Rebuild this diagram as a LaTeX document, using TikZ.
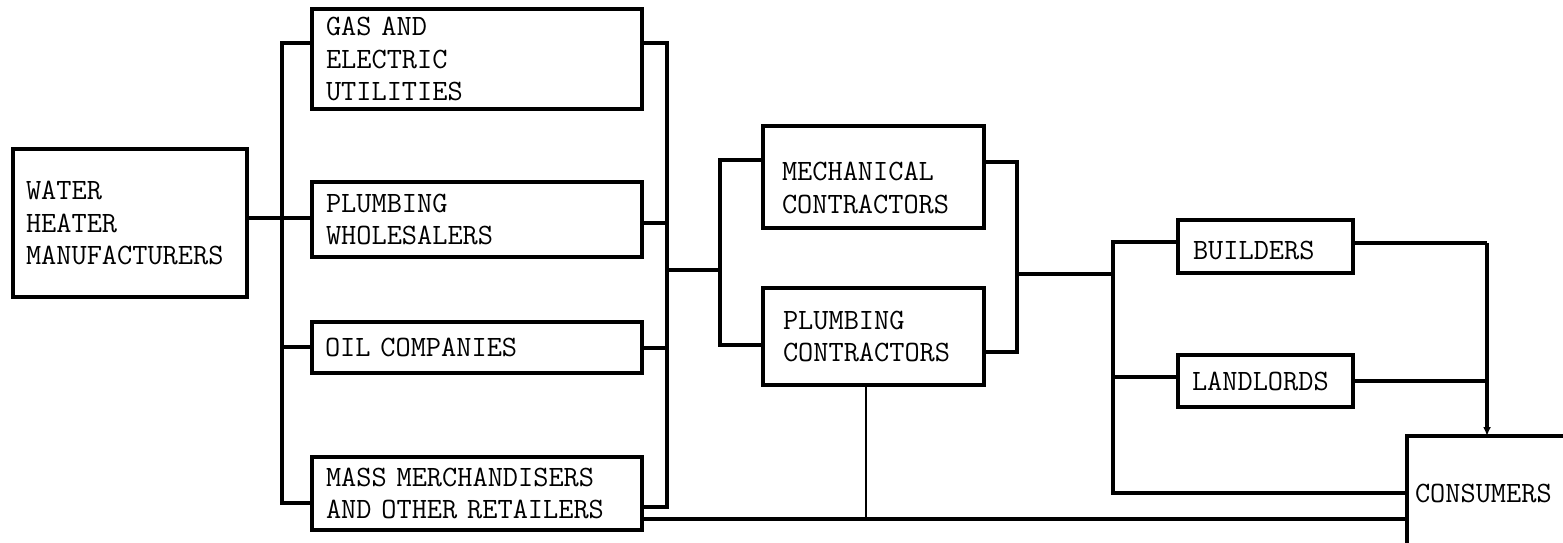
\documentclass[tikz,border=0pt]{standalone}
\usetikzlibrary{arrows.meta}
\newcommand\typew{\fontsize{29.5pt}{32.5pt}\selectfont\ttfamily}
\begin{document}
\begin{tikzpicture}[x=1pt,y=-1pt,
  box/.style={draw, line width=3.6pt, rectangle, anchor=north west, outer sep=0pt,
    inner ysep=0pt, align=left, font=\typew},
  conn/.style={line width=3.2pt},
  thinconn/.style={line width=2.2pt}]
\useasboundingbox (0,0) rectangle (1563,542);

% boxes
\node[box, minimum height=148pt, inner xsep=13pt, text width=208pt] (water) at (13,149) {WATER\\HEATER\\MANUFACTURERS};
\node[box, minimum height=100pt, inner xsep=14pt, text width=302pt] (gas) at (312,9) {GAS AND\\ELECTRIC\\UTILITIES};
\node[box, minimum height=75pt, inner xsep=14pt, text width=302pt] (pw) at (312,182) {PLUMBING\\WHOLESALERS};
\node[box, minimum height=51pt, inner xsep=13pt, text width=304pt] (oil) at (312,322) {OIL COMPANIES};
\node[box, minimum height=73pt, inner xsep=14pt, text width=302pt] (mass) at (312,457) {MASS MERCHANDISERS\\AND OTHER RETAILERS};
\node[box, minimum height=102pt, inner xsep=19pt, text width=183pt] (mech) at (763,126) {\rule{0pt}{40pt}MECHANICAL\\CONTRACTORS};
\node[box, minimum height=97pt, inner xsep=20pt, text width=181pt] (pc) at (763,288) {PLUMBING\\CONTRACTORS};
\node[box, minimum height=53pt, inner xsep=15pt, text width=145pt] (bld) at (1178,220) {\rule{0pt}{27pt}BUILDERS};
\node[box, minimum height=52pt, inner xsep=14pt, text width=147pt] (lnd) at (1178,355) {LANDLORDS};
\node[box, minimum height=114pt, inner xsep=8pt, text width=157pt] (cons) at (1407,436) {CONSUMERS};

% left bus
\coordinate (lbT) at (282,43);
\coordinate (lbW) at (282,218);
\coordinate (lbO) at (282,347);
\coordinate (lbB) at (282,503);
\draw[conn] (gas.west |- lbT) -- (lbT) -- (lbB) -- (mass.west |- lbB);
\draw[conn] (water.east |- lbW) -- (pw.west |- lbW);
\draw[conn] (lbO) -- (oil.west |- lbO);

% right bus of second column
\coordinate (rbT) at (667,43);
\coordinate (rbP) at (667,223);
\coordinate (rbM) at (667,270);
\coordinate (rbO) at (667,348);
\coordinate (rbB) at (667,507);
\draw[conn] (gas.east |- rbT) -- (rbT) -- (rbB) -- (mass.east |- rbB);
\draw[conn] (pw.east |- rbP) -- (rbP);
\draw[conn] (oil.east |- rbO) -- (rbO);

% contractors
\coordinate (mbT) at (720,160);
\coordinate (mbM) at (720,270);
\coordinate (mbB) at (720,345);
\draw[conn] (rbM) -- (mbM);
\draw[conn] (mech.west |- mbT) -- (mbT) -- (mbB) -- (pc.west |- mbB);
\coordinate (cbT) at (1017,162);
\coordinate (cbM) at (1017,274);
\coordinate (cbB) at (1017,352);
\draw[conn] (mech.east |- cbT) -- (cbT) -- (cbB) -- (pc.east |- cbB);

% builders / landlords
\coordinate (dbT) at (1113,242);
\coordinate (dbM) at (1113,274);
\coordinate (dbL) at (1113,377);
\coordinate (dbB) at (1113,493);
\draw[conn] (cbM) -- (dbM);
\draw[conn] (bld.west |- dbT) -- (dbT) -- (dbB) -- (cons.west |- dbB);
\draw[conn] (dbL) -- (lnd.west |- dbL);
\coordinate (eT) at (1487,243);
\coordinate (eL) at (1487,381);
\draw[conn] (bld.east |- eT) -- (eT);
\draw[conn,-{Latex[length=9pt,width=8pt]}] (eT) -- (eT |- cons.north);
\draw[conn] (lnd.east |- eL) -- (eL);

% bottom line
\coordinate (low) at (866,519);
\draw[conn] (mass.east |- low) -- (cons.west |- low);
\draw[thinconn] (low |- pc.south) -- (low);
\end{tikzpicture}
\end{document}
